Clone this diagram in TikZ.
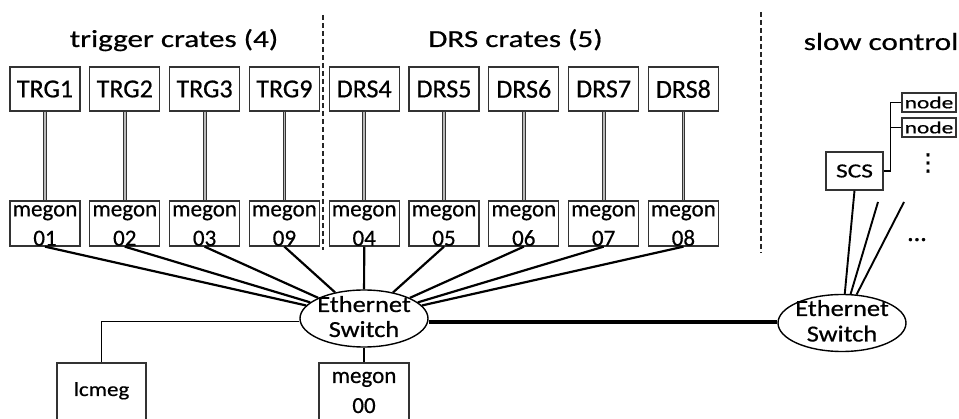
\documentclass[tikz,border=0pt]{standalone}
\usepackage{fontspec}
\setmainfont[FakeBold=0.6]{Carlito}
\newfontfamily\fcrate[FakeBold=0.6]{Carlito}
\newfontfamily\ftitle[FakeStretch=1.27,FakeBold=0.6]{Carlito}
\newfontfamily\fmeg[FakeStretch=1.0,FakeBold=0.6]{Carlito}
\newfontfamily\feth[FakeStretch=1.15,FakeBold=0.6]{Carlito}
\newfontfamily\fscs[FakeStretch=1.27,FakeBold=0.6]{Carlito}
\newfontfamily\fnode[FakeStretch=1.38,FakeBold=0.6]{Carlito}
\newfontfamily\fdv[FakeBold=0.8]{DejaVu Sans}
\usetikzlibrary{calc,shapes.geometric}
\definecolor{boxc}{HTML}{333333}
\tikzset{
  crate/.style={draw=boxc, line width=1.3pt, minimum width=70pt, minimum height=44pt, inner sep=0pt, font=\fcrate\fontsize{26}{30}\selectfont},
  mbox/.style={draw=boxc, line width=1.3pt, minimum width=70pt, minimum height=45pt, inner sep=0pt},
  mtext/.style={anchor=base, inner sep=0pt, font=\fmeg\fontsize{23}{27}\selectfont},
  bbox/.style={draw=boxc, line width=1.3pt, inner sep=0pt},
  swell/.style={ellipse, draw=black, line width=1.4pt, minimum width=128pt, minimum height=57pt, inner sep=0pt},
  swtext/.style={anchor=base, inner sep=0pt, font=\feth\fontsize{23}{27}\selectfont},
  ttl/.style={anchor=base, inner sep=0pt, font=\ftitle\fontsize{24.5}{28}\selectfont},
  dbl/.style={draw=boxc, line width=1pt, double=gray!55, double distance=1.8pt},
  eth/.style={draw=black, line width=2.2pt},
  thin1/.style={draw=black, line width=1.9pt},
  thickln/.style={draw=black, line width=3.2pt},
  dashln/.style={draw=gray!30!black, line width=1.3pt, dash pattern=on 5pt off 3pt},
}
\begin{document}
\begin{tikzpicture}[x=1pt, y=-1pt]
\useasboundingbox (0,0) rectangle (959,419);
% titles
\node[ttl] (t1) at (174,47) {trigger crates (4)};
\node[ttl] (t2) at (515.5,47) {DRS crates (5)};
\node[ttl] (t3) at (881,50) {slow control};
% dashed separators
\coordinate (d1t) at (323,15); \coordinate (d1b) at (323,250);
\coordinate (d2t) at (761,12); \coordinate (d2b) at (761,253);
\draw[dashln] (d1t) -- (d1b);
\draw[dashln] (d2t) -- (d2b);
% ethernet switches
\node[swell] (sw1) at (364,318.5) {};
\node[swtext] (sw1a) at (364,312) {Ethernet};
\node[swtext] (sw1b) at (364,337) {Switch};
\node[swell] (sw2) at (842,323) {};
\node[swtext] (sw2a) at (842,316) {Ethernet};
\node[swtext] (sw2b) at (842,341.5) {Switch};
% crates and megon boxes
\foreach \i/\lab/\num in {0/TRG1/01,1/TRG2/02,2/TRG3/03,3/TRG9/09,4/DRS4/04,5/DRS5/05,6/DRS6/06,7/DRS7/07,8/DRS8/08}{
  \node[crate] (c\i) at ({45+79.8*\i},89) {\lab};
  \node[mbox] (m\i) at ({45+79.8*\i},223.5) {};
  \node[mtext] (ma\i) at ($(m\i.north)+(0,16)$) {megon};
  \node[mtext] (mb\i) at ($(m\i.south)+(0,-1)$) {\num};
  \draw[dbl] (c\i.south) -- (m\i.north);
  \draw[eth] (m\i.south) -- (sw1);
}
% lcmeg
\node[bbox, minimum width=89pt, minimum height=62pt] (lc) at (101.5,394) {};
\node[anchor=base, inner sep=0pt, font=\feth\fontsize{20}{24}\selectfont] (lct) at (101.5,396) {lcmeg};
\draw[thin1] ([yshift=-3pt]sw1.west) -| (lc.north);
% megon00
\node[bbox, minimum width=90pt, minimum height=62pt] (m00) at (364,394) {};
\node[mtext] (m00a) at (364,383) {megon};
\node[mtext] (m00b) at (364,413) {00};
\draw[thin1] (sw1.south) -- (m00.north);
% link between switches
\draw[thickln] ([yshift=-3.5pt]sw1.east) -- ([yshift=1pt]sw2.west);
% slow control
\node[bbox, minimum width=57pt, minimum height=38pt, font=\fscs\fontsize{20}{24}\selectfont] (scs) at (854.5,171) {SCS};
\node[bbox, minimum width=54pt, minimum height=19pt, font=\fnode\fontsize{17}{20}\selectfont] (n1) at (929,102.5) {node};
\node[bbox, minimum width=54pt, minimum height=19pt, font=\fnode\fontsize{17}{20}\selectfont] (n2) at (929,127.5) {node};
\draw[draw=black, line width=1.3pt] (scs.east) -- ++(7,0) coordinate (br) |- (n1.west);
\draw[draw=black, line width=1.3pt] (br) |- (n2.west);
\node[inner sep=0pt, font=\fdv\fontsize{24}{28}\selectfont] (vd) at (928,163) {⋮};
\node[anchor=base, inner sep=0pt, font=\fcrate\fontsize{26}{28}\selectfont] (hd) at (917,241) {...};
\coordinate (e1) at (878,202);
\coordinate (e2) at (904,202);
\draw[thin1] (scs.south) -- (sw2);
\draw[thin1] (e1) -- (sw2);
\draw[thin1] (e2) -- (sw2);
\end{tikzpicture}
\end{document}
